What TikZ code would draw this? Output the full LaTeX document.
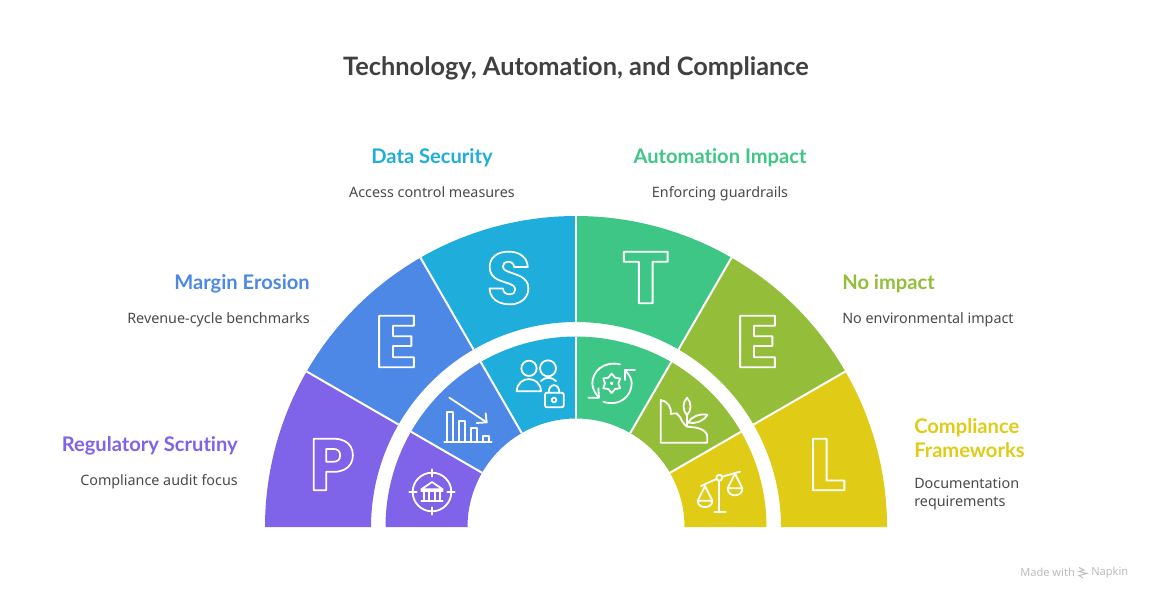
\documentclass[tikz,border=0pt]{standalone}
\usepackage{fontspec}
\setmainfont{Noto Sans}
\newfontfamily\headfont[Ligatures=NoCommon]{Lato}
\newfontfamily\letterfont{Poppins}
\definecolor{cP}{HTML}{7F63E8}
\definecolor{cE}{HTML}{4E88E6}
\definecolor{cS}{HTML}{1FADDB}
\definecolor{cT}{HTML}{3EC686}
\definecolor{cG}{HTML}{94BE3A}
\definecolor{cL}{HTML}{E0CC16}
\definecolor{ink}{HTML}{404040}
\definecolor{bodyink}{HTML}{4A4A4A}
\definecolor{footgrey}{HTML}{BDBDBD}
\newcommand\outl[1]{\special{pdf:code 1 Tr 1.3 w 1 j 1 1 1 RG}#1\special{pdf:code 0 Tr}}
\newcommand\sector[3]{%
 \fill[#3] (#1:311) arc[start angle=#1,end angle=#2,radius=233.25pt] -- (#2:205) arc[start angle=#2,end angle=#1,radius=153.75pt] -- cycle;
 \fill[#3] (#1:190.5) arc[start angle=#1,end angle=#2,radius=142.875pt] -- (#2:108.5) arc[start angle=#2,end angle=#1,radius=81.375pt] -- cycle;}
\newcommand\divider[1]{%
 \draw[sep] (#1:205) -- (#1:311);
 \draw[sep] (#1:108.5) -- (#1:190.5);}
\tikzset{
 sep/.style={white,line width=1.5pt},
 ttl/.style={inner sep=0pt,text=ink,font=\headfont\fontsize{19pt}{22pt}\selectfont\bfseries},
 head/.style={inner sep=0pt,font=\headfont\fontsize{15.1pt}{18pt}\selectfont\bfseries,align=left},
 txt/.style={inner sep=0pt,text=bodyink,font=\fontsize{10.75pt}{13.5pt}\selectfont,align=left},
 letter/.style={inner sep=0pt,font=\letterfont\fontsize{55pt}{55pt}\selectfont\bfseries},
 ic/.style={white,line width=1.35pt,line join=round,line cap=round},
 zoomA/.style={shift={(260,330)},x=.25pt,y=-.25pt},
 zoomB/.style={shift={(575,330)},x=.25pt,y=-.25pt},
}
\begin{document}
\begin{tikzpicture}[x=.75pt,y=-.75pt]
\useasboundingbox (0,0) rectangle (1152,601);
\fill[white] (0,0) rectangle (1152,601);
\begin{scope}[shift={(576,527)},y=.75pt]
 \sector{150}{180}{cP}
 \sector{120}{150}{cE}
 \sector{90}{120}{cS}
 \sector{60}{90}{cT}
 \sector{30}{60}{cG}
 \sector{0}{30}{cL}
 \foreach \a in {30,60,90,120,150} {\divider{\a}}
\end{scope}
% letters
\node[letter] (lp) at (332,464.5) {\outl{P}};
\node[letter,xscale=1.1,transform shape] (le) at (396,341.5) {\outl{E}};
\node[letter] (ls) at (509,278) {\outl{S}};
\node[letter,xscale=1.1,transform shape] (lt) at (645.7,277.5) {\outl{T}};
\node[letter,xscale=1.1,transform shape] (lg) at (757,341.5) {\outl{E}};
\node[letter,xscale=1.08,transform shape] (ll) at (827,464.5) {\outl{L}};
% texts
\node[ttl,anchor=base] (title) at (576,75) {Technology, Automation, and Compliance};
\node[head,text=cP,anchor=base east] (h1) at (238,451) {Regulatory Scrutiny};
\node[txt,anchor=base east] (t1) at (238,485) {Compliance audit focus};
\node[head,text=cE,anchor=base east] (h2) at (310,289) {Margin Erosion};
\node[txt,anchor=base east] (t2) at (310,323) {Revenue-cycle benchmarks};
\node[head,text=cS,anchor=base] (h3) at (432,163) {Data Security};
\node[txt,anchor=base] (t3) at (432,197) {Access control measures};
\node[head,text=cT,anchor=base] (h4) at (720,163) {Automation Impact};
\node[txt,anchor=base] (t4) at (720,197) {Enforcing guardrails};
\node[head,text=cG,anchor=base west] (h5) at (842,289) {No impact};
\node[txt,anchor=base west] (t5) at (842,323) {No environmental impact};
\node[head,text=cL,anchor=west] (h6) at (914,438) {Compliance\\Frameworks};
\node[txt,anchor=west] (t6) at (914,494) {Documentation\\requirements};
% footer
\node[inner sep=0pt,text=footgrey,font=\fontsize{8.3pt}{10pt}\selectfont,anchor=west] (m1) at (1020,572.5) {Made with};
\node[inner sep=0pt,text=footgrey,font=\fontsize{8.3pt}{10pt}\selectfont,anchor=west] (m2) at (1091,572.5) {Napkin};
\draw[footgrey,line width=.7pt] (1079,567.5) -- (1084,570) -- (1079,571.5) -- (1087,573.5) -- (1079,575.5) -- (1083,578);
% bank target
\begin{scope}[zoomA]
 \draw[ic] (516,486) circle[radius=14.5pt];
 \draw[ic] (516,418) -- (516,440) (516,532) -- (516,554) (448,486) -- (470,486) (562,486) -- (584,486);
 \draw[ic] (484,478) -- (516,456) -- (548,478) -- cycle;
 \draw[ic] (484,484) -- (548,484) (484,512) -- (548,512);
 \draw[ic] (492,484) -- (492,512) (507,484) -- (507,512) (525,484) -- (525,512) (540,484) -- (540,512);
 % chart
 \draw[ic] (553,336) -- (695,336);
 \draw[ic] (560,336) -- (560,245) -- (580,245) -- (580,336);
 \draw[ic] (598,336) -- (598,272) -- (614,272) -- (614,336);
 \draw[ic] (634,336) -- (634,295) -- (652,295) -- (652,336);
 \draw[ic] (669,336) -- (669,318) -- (688,318) -- (688,336);
 \draw[ic] (568,203) -- (680,277);
 \draw[ic] (677,250) -- (680,277) -- (650,279);
 % people and lock
 \draw[ic] (807,115) circle[radius=5.75pt];
 \draw[ic] (864,115) circle[radius=6pt];
 \draw[ic] (770,184) .. controls (772,135) and (841,135) .. (843,184) -- cycle;
 \draw[ic] (843,153) .. controls (855,140) and (875,140) .. (888,153);
 \draw[ic,rounded corners=1.5pt] (855,188) rectangle (911,232);
 \draw[ic] (866,188) .. controls (866,158) and (898,158) .. (898,188);
 \draw[ic] (882,210) circle[radius=1.75pt];
\end{scope}
\begin{scope}[zoomB]
 % gear cycle
 \draw[ic] (135,103) .. controls (85,92) and (52,125) .. (52,160) .. controls (52,175) and (60,190) .. (70,200);
 \draw[ic] (85,215) .. controls (130,232) and (170,200) .. (170,160) .. controls (170,145) and (162,132) .. (150,122);
 \draw[ic] (40,203) -- (72,203) -- (70,175);
 \draw[ic] (180,120) -- (150,120) -- (150,150);
 \draw[ic] plot[smooth cycle] coordinates {(110,131) (120,143) (135,145.5) (130,160) (135,174.5) (120,177) (110,189) (100,177) (85,174.5) (90,160) (85,145.5) (100,143)};
 \draw[ic] (110,160) circle[radius=.6pt];
 % plant
 \draw[ic] (257,210) -- (257,338) -- (397,338) -- (397,322) .. controls (397,300) and (370,292) .. (345,291) .. controls (320,290) and (322,262) .. (305,250) .. controls (298,246) and (292,255) .. (287,252) .. controls (292,232) and (275,212) .. (257,210) -- cycle;
 \draw[ic] (336,203) .. controls (322,218) and (322,240) .. (336,256) .. controls (350,240) and (350,218) .. (336,203) -- cycle;
 \draw[ic] (336,256) -- (336,290);
 \draw[ic] (340,278) .. controls (350,258) and (375,250) .. (397,254) .. controls (385,275) and (362,282) .. (340,278) -- cycle;
 % scales
 \draw[ic] (433,452) -- (433,547) (418,547) -- (452,547);
 \draw[ic] (433,443) circle[radius=2.25pt];
 \draw[ic] (378,468) -- (424,447) (442,440) -- (495,425);
 \draw[ic] (368,512) -- (390,468) -- (412,512);
 \draw[ic] (368,512) -- (412,512) .. controls (412,538) and (368,538) .. (368,512) -- cycle;
 \draw[ic] (458,475) -- (480,431) -- (502,475);
 \draw[ic] (458,475) -- (502,475) .. controls (502,503) and (458,503) .. (458,475) -- cycle;
\end{scope}
\end{tikzpicture}
\end{document}
